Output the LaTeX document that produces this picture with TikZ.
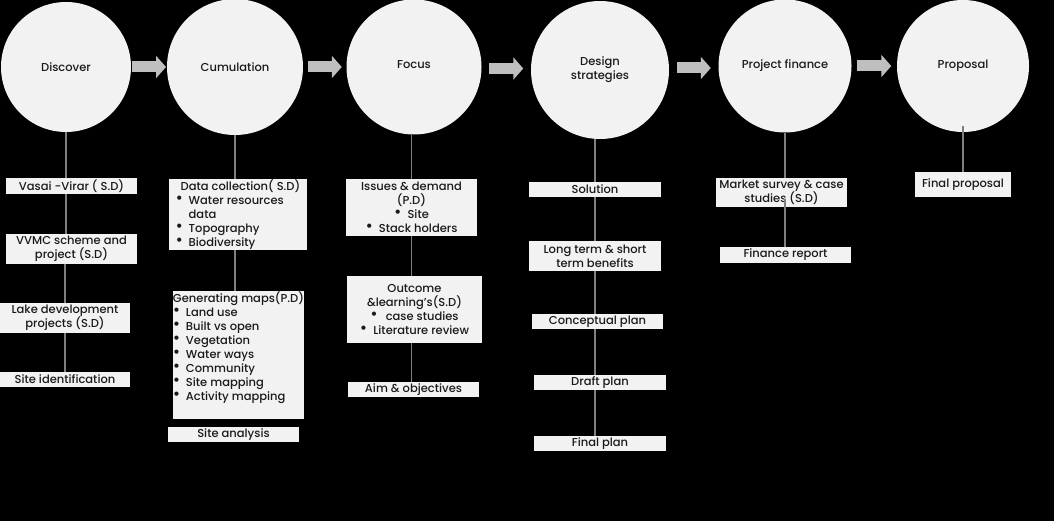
\documentclass[tikz,border=0pt]{standalone}
\usepackage{fontspec}
\setmainfont{Poppins}[UprightFont=* Medium]
\usetikzlibrary{arrows.meta,calc}
\definecolor{stagegray}{HTML}{F2F2F2}
\definecolor{boxgray}{HTML}{F2F2F2}
\definecolor{linkgray}{HTML}{7F7F7F}
\definecolor{flowgray}{HTML}{BFBFBF}
\definecolor{inkgray}{HTML}{1A1A1A}
\newcommand{\dotmark}{\raisebox{1pt}{\fontsize{16}{14}\selectfont\textbullet}}
\newcommand{\bul}[1]{\makebox[13pt][l]{\dotmark}#1}
\begin{document}
\begin{tikzpicture}[x=1pt,y=-1pt,
    stage/.style={circle,fill=stagegray,minimum size=133pt,inner sep=0pt,align=center,text=inkgray,font=\fontsize{11.5}{14}\selectfont},
    infobox/.style={fill=boxgray,inner sep=0pt,align=center,minimum width=131pt,minimum height=15pt,text=inkgray,font=\fontsize{11.5}{14}\selectfont},
    listbox/.style={infobox,align=left},
    link/.style={draw=linkgray,line width=1.5pt},
    flow/.style={draw=flowgray,line width=11pt,-{Triangle[length=10pt,width=22pt]}}]
    \useasboundingbox[fill=black] (0,0) rectangle (1054,521);
    % stages
    \node[stage,minimum size=130pt] (disc) at (66,67) {Discover};
    \node[stage,minimum size=136pt] (cumu) at (235,67) {Cumulation};
    \node[stage,minimum size=135pt] (focs) at (414,67) {\raisebox{4pt}{Focus}};
    \node[stage,minimum size=138pt] (dsgn) at (600,70) {Design\\strategies};
    \node[stage] (finc) at (785,66) {Project finance};
    \node[stage,minimum size=132pt] (prop) at (963,66) {Proposal};
    \foreach \a/\b in {disc/cumu,cumu/focs,focs/dsgn,dsgn/finc,finc/prop}
        \draw[flow] ($(\a.east)!.5!(\b.west)$) ++(-17,0) -- ++(34,0);
    % discover
    \node[infobox,minimum height=16pt] (vasai) at (71.5,186) {Vasai -Virar ( S.D)};
    \node[infobox,minimum height=30pt] (vvmc) at (71.5,249) {VVMC scheme and\\project (S.D)};
    \node[infobox,minimum width=130pt,minimum height=30pt] (lake) at (65,318) {Lake development\\projects (S.D)};
    \node[infobox,minimum width=130pt] (siteid) at (65,379.5) {Site identification};
    % cumulation
    \node[listbox,minimum width=138pt,minimum height=71pt] (datacol) at (238,214.5) {\hspace*{5pt}Data collection( S.D)\\\bul{Water resources}\\\hspace*{13pt}data\\\bul{Topography}\\\bul{Biodiversity}};
    \node[listbox,minimum height=128pt] (genmaps) at (238.5,355) {Generating maps(P.D)\\\bul{Land use}\\\bul{Built vs open}\\\bul{Vegetation}\\\bul{Water ways}\\\bul{Community}\\\bul{Site mapping}\\\bul{Activity mapping}\\[4pt]\mbox{}};
    \node[infobox] (siteana) at (233.5,434.5) {Site analysis};
    % focus
    \node[infobox,minimum height=57pt] (issues) at (411.5,207.5) {Issues \& demand\\(P.D)\\\dotmark\hspace{6pt}Site\\\dotmark\hspace{6pt}Stack holders};
    \node[infobox,minimum width=135pt,minimum height=67pt] (outcome) at (414.5,309.5) {Outcome\\\&learning’s(S.D)\\\dotmark\hspace{8pt}case studies\\\dotmark\hspace{6pt}Literature review};
    \node[infobox] (aim) at (413.5,389.5) {Aim \& objectives};
    % design strategies
    \node[infobox,minimum width=132pt] (solution) at (595,189.5) {Solution};
    \node[infobox,minimum width=132pt,minimum height=30pt] (benefit) at (595,256) {Long term \& short\\term benefits};
    \node[infobox] (concept) at (597.5,321.5) {Conceptual plan};
    \node[infobox,minimum width=132pt] (draft) at (600,382.5) {Draft plan};
    \node[infobox,minimum width=132pt] (finplan) at (600,443.5) {Final plan};
    % project finance
    \node[infobox,minimum height=29pt] (market) at (781.5,192.5) {Market survey \& case\\studies (S.D)};
    \node[infobox,minimum height=16pt] (finrep) at (785.5,255) {Finance report};
    % proposal
    \node[infobox,minimum width=96pt,minimum height=25pt] (finprop) at (963,184.5) {Final proposal};
    % links
    \draw[link] (disc.south) -- (disc.south |- vasai.north);
    \draw[link] (vasai.south -| disc.south) -- (disc.south |- vvmc.north);
    \draw[link] (lake.north |- vvmc.south) -- (lake.north);
    \draw[link] (lake.south) -- (siteid.north);
    \draw[link] (cumu.south) -- (cumu.south |- datacol.north);
    \draw[link] (cumu.south |- datacol.south) -- (cumu.south |- genmaps.north);
    \draw[link] (issues.north |- focs.south) -- (issues.north);
    \draw[link] (issues.south) -- (issues.south |- outcome.north);
    \draw[link] (issues.south |- outcome.south) -- (issues.south |- aim.north);
    \draw[link] (solution.north |- dsgn.south) -- (solution.north);
    \draw[link] (solution.south) -- (benefit.north);
    \draw[link] (benefit.south) -- (benefit.south |- concept.north);
    \draw[link] (benefit.south |- concept.south) -- (benefit.south |- draft.north);
    \draw[link] (benefit.south |- draft.south) -- (benefit.south |- finplan.north);
    \draw[link] (finc.south) -- (finc.south |- market.north);
    \draw[link] ([yshift=8pt]market.south -| finc.south) -- (finc.south |- finrep.north);
    \draw[link] ([yshift=6pt]prop.south) -- (prop.south |- finprop.north);
\end{tikzpicture}
\end{document}
